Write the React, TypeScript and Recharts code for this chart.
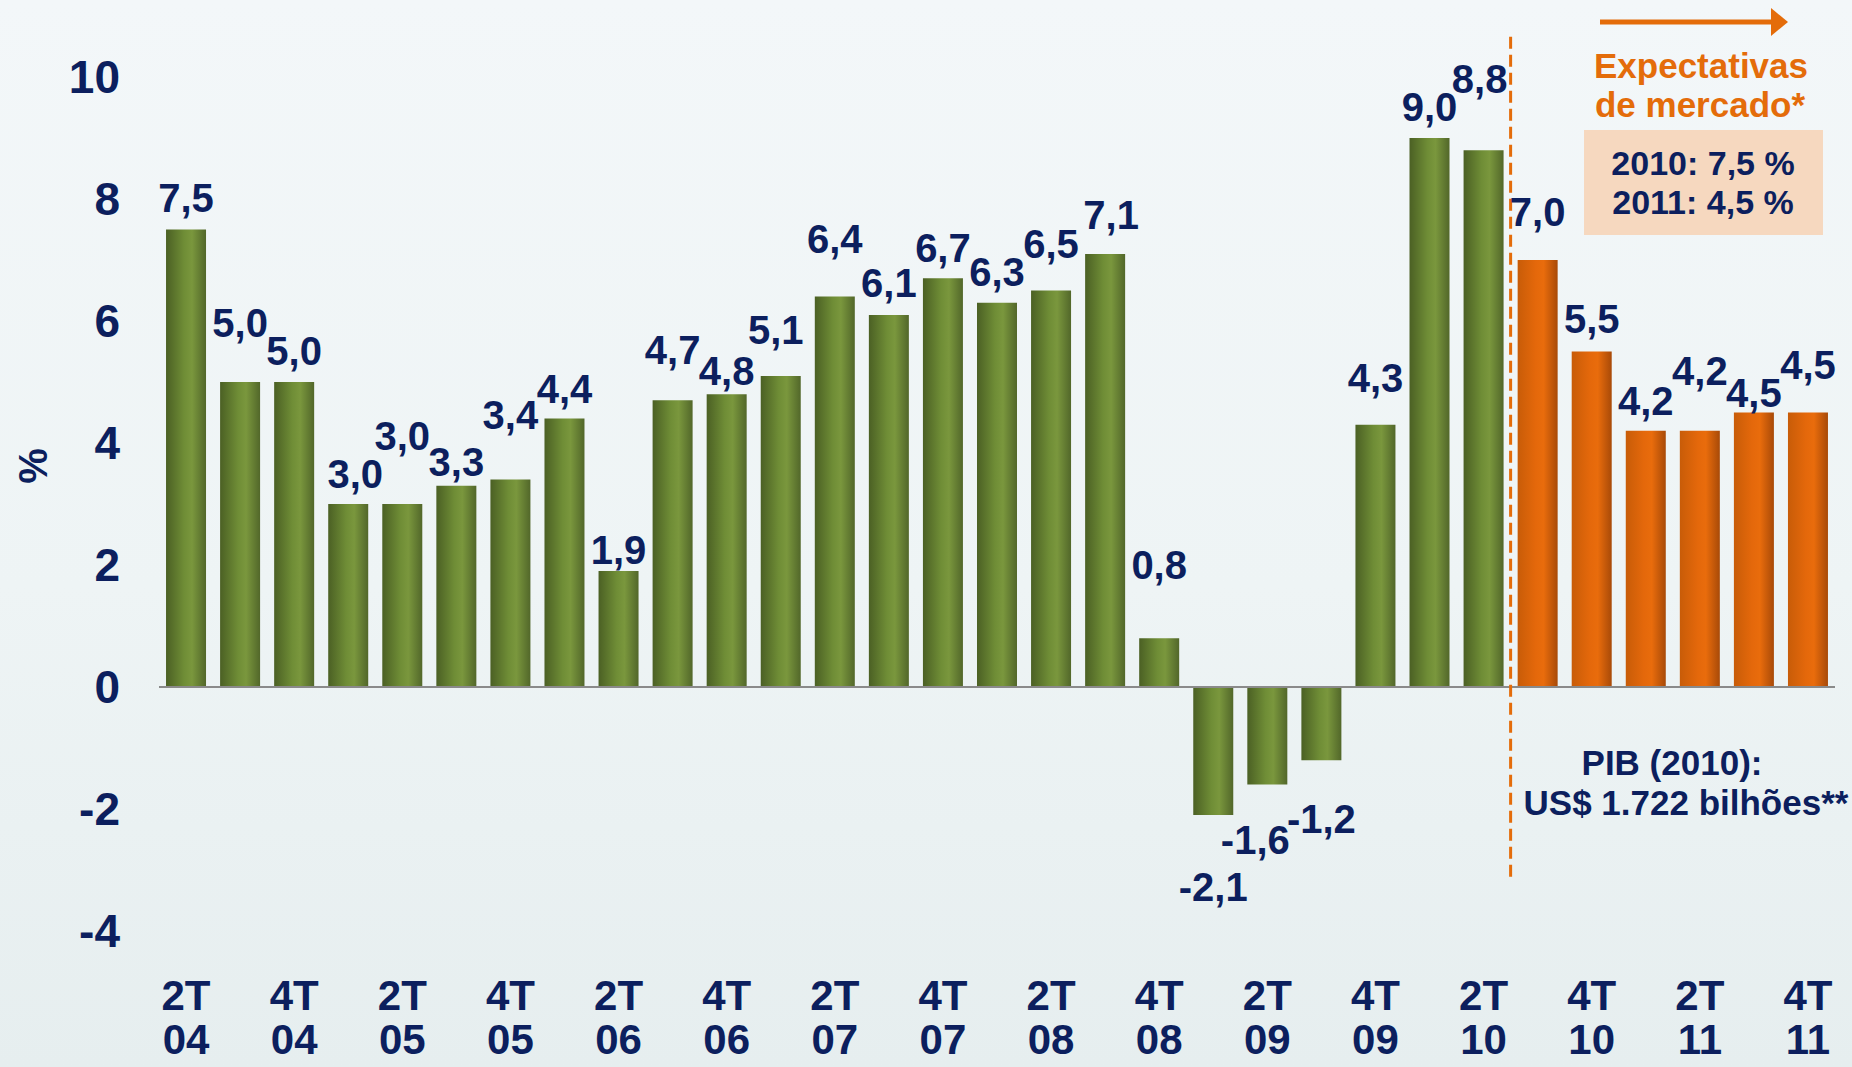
import React from 'react';
import { BarChart, Bar, XAxis, YAxis, Cell, LabelList, ReferenceLine } from 'recharts';

const categories = [
  '2T 04', '3T 04', '4T 04',
  '1T 05', '2T 05', '3T 05', '4T 05',
  '1T 06', '2T 06', '3T 06', '4T 06',
  '1T 07', '2T 07', '3T 07', '4T 07',
  '1T 08', '2T 08', '3T 08', '4T 08',
  '1T 09', '2T 09', '3T 09', '4T 09',
  '1T 10', '2T 10', '3T 10', '4T 10',
  '1T 11', '2T 11', '3T 11', '4T 11',
];
const gdpGrowth = [
  7.5, 5.0, 5.0,
  3.0, 3.0, 3.3, 3.4,
  4.4, 1.9, 4.7, 4.8,
  5.1, 6.4, 6.1, 6.7,
  6.3, 6.5, 7.1, 0.8,
  -2.1, -1.6, -1.2, 4.3,
  9.0, 8.8, 7.0, 5.5,
  4.2, 4.2, 4.5, 4.5,
];
const forecastCategories = ['3T 10', '4T 10', '1T 11', '2T 11', '3T 11', '4T 11'];
const lastActualCategory = '2T 10';
const yTicks = [-4, -2, 0, 2, 4, 6, 8, 10];
const expectations = ['2010: 7,5 %', '2011: 4,5 %'];
const pibNote = ['PIB (2010):', 'US$ 1.722 bilhões**'];
const expectTitle = ['Expectativas', 'de mercado*'];

// label placement (pixels, style only)
const labelLift = [32, 59, 31, 30, 68, 24, 65, 30, 22, 51, 24, 46, 58, 32, 31, 31, 47, 39, 74, 71, 55, 58, 47, 31, 72, 48, 33, 30, 60, 20, 48];
const labelShift = [0, 0, 0, 7, 0, 0, 0, 0, 0, 0, 0, -5, 0, 0, 0, 0, 0, 6, 0, 0, -12, 0, 0, 0, -4, 0, 0, 0, 0, 0, 0];

const data = categories.map((c, i) => ({ cat: c, value: gdpGrowth[i] }));

const NAVY = '#0c1f5e';
const ORANGE = '#e46c0a';
const NARROW = '"Liberation Sans Narrow", "Arial Narrow", "Liberation Sans", Arial, sans-serif';
const WIDE = '"Liberation Sans", Arial, sans-serif';

const fmt = (v: number) => v.toFixed(1).replace('.', ',');

const ValueLabel = (props: any) => {
  const { x, y, width, height, index, value } = props;
  const v = Number(value);
  const top = Math.min(y, y + height);
  const bottom = Math.max(y, y + height);
  const cx = x + width / 2 + (labelShift[index] || 0);
  const cy = v >= 0 ? top - labelLift[index] : bottom + labelLift[index];
  return (
    <text x={cx} y={cy} dy="0.36em" textAnchor="middle" fill={NAVY}
      style={{ fontFamily: NARROW, fontWeight: 700, fontSize: 40 }}>
      {fmt(v)}
    </text>
  );
};

const XTick = (props: any) => {
  const { x, y, payload } = props;
  const [q, yr] = String(payload.value).split(' ');
  return (
    <g>
      <text x={x} y={y + 64} dy="0.36em" textAnchor="middle" fill={NAVY}
        style={{ fontFamily: NARROW, fontWeight: 700, fontSize: 42 }}>{q}</text>
      <text x={x} y={y + 108} dy="0.36em" textAnchor="middle" fill={NAVY}
        style={{ fontFamily: NARROW, fontWeight: 700, fontSize: 42 }}>{yr}</text>
    </g>
  );
};

const DashedDivider = (props: any) => {
  const { x1, y1, x2, y2 } = props;
  return <line x1={x1} y1={y1} x2={x2} y2={y2} stroke={ORANGE} strokeWidth={3} strokeDasharray="12 6" />;
};

export default function App() {
  return (
    <div style={{
      position: 'absolute', left: 0, top: 0, width: 1852, height: 1067, overflow: 'hidden',
      background: 'linear-gradient(180deg, #f3f7f9 0%, #eef4f5 55%, #e6eeef 100%)',
    }}>
      <BarChart width={1852} height={1067} data={data}
        margin={{ top: 77, right: 17, bottom: 0, left: 0 }} barCategoryGap="13%">
        <defs>
          <linearGradient id="gGreen" x1="0" y1="0" x2="1" y2="0">
            <stop offset="0%" stopColor="#4b6024" />
            <stop offset="45%" stopColor="#6f8d36" />
            <stop offset="65%" stopColor="#7a973d" />
            <stop offset="100%" stopColor="#52672a" />
          </linearGradient>
          <linearGradient id="gOrange" x1="0" y1="0" x2="1" y2="0">
            <stop offset="0%" stopColor="#c85c08" />
            <stop offset="45%" stopColor="#e4680b" />
            <stop offset="65%" stopColor="#e96c0c" />
            <stop offset="100%" stopColor="#a84a08" />
          </linearGradient>
        </defs>
        <XAxis dataKey="cat" interval={1} axisLine={false} tickLine={false} tickSize={0} tickMargin={0}
          height={136} tick={<XTick />} />
        <YAxis domain={[-4, 10]} ticks={yTicks} width={159} axisLine={false} tickLine={false}
          tickSize={0} tickMargin={39} interval={0}
          tick={{ fill: NAVY, fontSize: 46, fontWeight: 700, fontFamily: NARROW }} />
        <ReferenceLine y={0} stroke="#8a8a8a" strokeWidth={2} />
        <Bar dataKey="value" isAnimationActive={false}>
          {data.map((d) => (
            <Cell key={d.cat} fill={forecastCategories.includes(d.cat) ? 'url(#gOrange)' : 'url(#gGreen)'} />
          ))}
          <LabelList dataKey="value" content={<ValueLabel />} />
        </Bar>
        <ReferenceLine
          segment={[{ x: lastActualCategory, y: 10.66 }, { x: lastActualCategory, y: -3.2 }]}
          position="end" ifOverflow="visible" shape={<DashedDivider />} />
      </BarChart>
      <svg width={1852} height={1067} style={{ position: 'absolute', left: 0, top: 0, pointerEvents: 'none' }}>
        <text x={33} y={466} dy="0.36em" textAnchor="middle" transform="rotate(-90 33 466)" fill={NAVY}
          style={{ fontFamily: WIDE, fontWeight: 700, fontSize: 40 }}>%</text>
        <line x1={1600} y1={22} x2={1774} y2={22} stroke={ORANGE} strokeWidth={5} />
        <polygon points="1771,8 1788,22 1771,36" fill={ORANGE} />
        <text x={1701} y={65} dy="0.36em" textAnchor="middle" fill={ORANGE}
          style={{ fontFamily: NARROW, fontWeight: 700, fontSize: 35 }}>{expectTitle[0]}</text>
        <text x={1700} y={104} dy="0.36em" textAnchor="middle" fill={ORANGE}
          style={{ fontFamily: NARROW, fontWeight: 700, fontSize: 35 }}>{expectTitle[1]}</text>
        <rect x={1584} y={130} width={239} height={105} fill="#f6d8bf" />
        <text x={1703} y={163} dy="0.36em" textAnchor="middle" fill={NAVY}
          style={{ fontFamily: WIDE, fontWeight: 700, fontSize: 34 }}>{expectations[0]}</text>
        <text x={1703} y={202} dy="0.36em" textAnchor="middle" fill={NAVY}
          style={{ fontFamily: WIDE, fontWeight: 700, fontSize: 34 }}>{expectations[1]}</text>
        <text x={1672} y={762} dy="0.36em" textAnchor="middle" fill={NAVY}
          style={{ fontFamily: NARROW, fontWeight: 700, fontSize: 35 }}>{pibNote[0]}</text>
        <text x={1686} y={802} dy="0.36em" textAnchor="middle" fill={NAVY}
          style={{ fontFamily: NARROW, fontWeight: 700, fontSize: 35 }}>{pibNote[1]}</text>
      </svg>
    </div>
  );
}
